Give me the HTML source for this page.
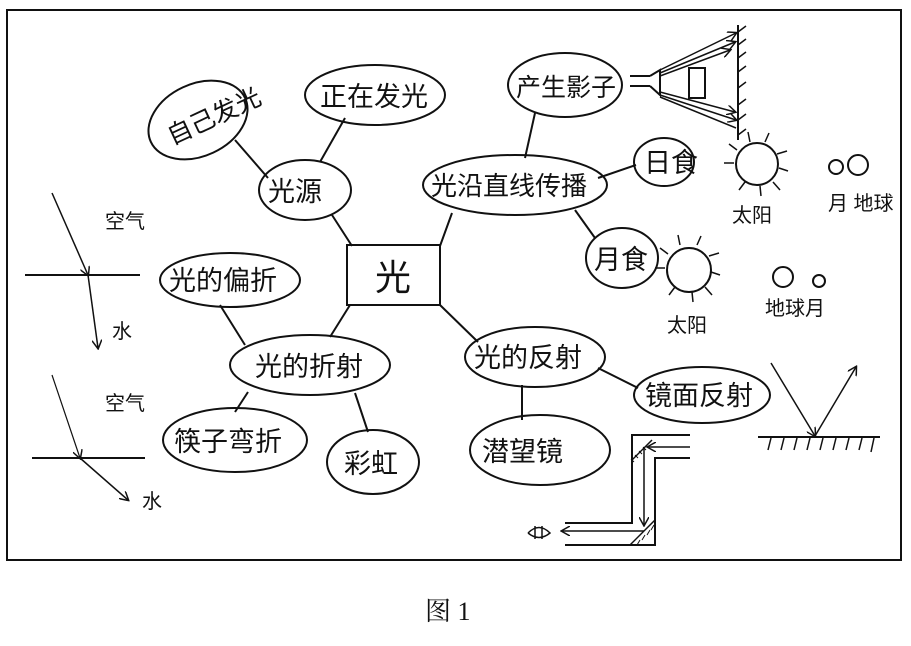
<!DOCTYPE html>
<html><head><meta charset="utf-8"><style>
body{margin:0;background:#fff;width:911px;height:641px;overflow:hidden}
svg text{font-family:"Liberation Sans","Noto Sans CJK SC",sans-serif;fill:#111}
</style></head><body>
<svg width="911" height="641" viewBox="0 0 911 641" xmlns="http://www.w3.org/2000/svg">
<defs><marker id="a" markerWidth="10" markerHeight="10" refX="8" refY="5" orient="auto" markerUnits="userSpaceOnUse"><path d="M0,0 L9,5 L0,10" fill="none" stroke="#111" stroke-width="1.5"/></marker></defs>
<rect x="7" y="10" width="894" height="550" fill="none" stroke="#111" stroke-width="2"/>
<g stroke="#111" stroke-width="2" fill="none">
<line x1="235" y1="140" x2="268" y2="178"/>
<line x1="345" y1="118" x2="320" y2="162"/>
<line x1="332" y1="215" x2="352" y2="246"/>
<line x1="440" y1="246" x2="452" y2="213"/>
<line x1="525" y1="158" x2="535" y2="113"/>
<line x1="598" y1="178" x2="636" y2="165"/>
<line x1="575" y1="210" x2="595" y2="238"/>
<line x1="350" y1="305" x2="330" y2="337"/>
<line x1="440" y1="305" x2="478" y2="342"/>
<line x1="220" y1="305" x2="245" y2="345"/>
<line x1="248" y1="392" x2="235" y2="412"/>
<line x1="355" y1="393" x2="368" y2="432"/>
<line x1="598" y1="368" x2="638" y2="388"/>
<line x1="522" y1="385" x2="522" y2="420"/>
<ellipse cx="198" cy="120" rx="52" ry="36" transform="rotate(-25 198 120)"/>
<ellipse cx="375" cy="95" rx="70" ry="30"/>
<ellipse cx="305" cy="190" rx="46" ry="30"/>
<ellipse cx="565" cy="85" rx="57" ry="32"/>
<ellipse cx="515" cy="185" rx="92" ry="30"/>
<ellipse cx="664" cy="162" rx="30" ry="24"/>
<ellipse cx="622" cy="258" rx="36" ry="30"/>
<rect x="347" y="245" width="93" height="60"/>
<ellipse cx="230" cy="280" rx="70" ry="27"/>
<ellipse cx="310" cy="365" rx="80" ry="30"/>
<ellipse cx="535" cy="357" rx="70" ry="30"/>
<ellipse cx="702" cy="395" rx="68" ry="28"/>
<ellipse cx="235" cy="440" rx="72" ry="32"/>
<ellipse cx="373" cy="462" rx="46" ry="32"/>
<ellipse cx="540" cy="450" rx="70" ry="35"/>
<line x1="25" y1="275" x2="140" y2="275"/>
<line x1="52" y1="193" x2="88" y2="275" stroke-width="1.5" marker-end="url(#a)"/>
<line x1="88" y1="275" x2="98" y2="348" stroke-width="1.5" marker-end="url(#a)"/>
<line x1="32" y1="458" x2="145" y2="458"/>
<line x1="52" y1="375" x2="80" y2="458" stroke-width="1.2" marker-end="url(#a)"/>
<line x1="80" y1="458" x2="128" y2="500" stroke-width="1.5" marker-end="url(#a)"/>
<line x1="630" y1="76" x2="650" y2="76"/><line x1="630" y1="86" x2="650" y2="86"/>
<path d="M650,76 L660,70 L660,95 L650,86"/>
<line x1="738" y1="25" x2="738" y2="140"/>
<path d="M738,32 l8,-6 M738,45 l8,-6 M738,58 l8,-6 M738,72 l8,-6 M738,88 l8,-6 M738,105 l8,-6 M738,120 l8,-6 M738,135 l8,-6" stroke-width="1.5"/>
<g stroke-width="1.5"><line x1="660" y1="70" x2="736" y2="33" marker-end="url(#a)"/><line x1="660" y1="73" x2="735" y2="42" marker-end="url(#a)"/><line x1="660" y1="76" x2="730" y2="50" marker-end="url(#a)"/>
<line x1="660" y1="92" x2="735" y2="112" marker-end="url(#a)"/><line x1="660" y1="95" x2="736" y2="120" marker-end="url(#a)"/><line x1="660" y1="97" x2="736" y2="128"/></g>
<rect x="689" y="68" width="16" height="30"/>
<circle cx="757" cy="164" r="21"/>
<path d="M734,163h-10M737,150l-8,-6M750,142l-2,-10M765,142l4,-9M777,154l10,-3M779,168l9,3M773,182l7,8M760,186l1,10M745,182l-6,8" stroke-width="1.5"/>
<circle cx="689" cy="270" r="22"/>
<path d="M665,268h-10M668,254l-8,-6M680,245l-2,-10M697,245l4,-9M709,256l10,-3M711,272l9,3M705,287l7,8M692,292l1,10M675,287l-6,8" stroke-width="1.5"/>
<circle cx="836" cy="167" r="7"/><circle cx="858" cy="165" r="10"/>
<circle cx="783" cy="277" r="10"/><circle cx="819" cy="281" r="6"/>
<line x1="758" y1="437" x2="880" y2="437"/>
<path d="M768,450l3,-12M781,450l3,-12M794,450l3,-12M807,450l3,-12M820,450l3,-12M833,450l3,-12M846,450l3,-12M859,450l3,-12M871,452l3,-14" stroke-width="1.5"/>
<line x1="771" y1="363" x2="815" y2="436" stroke-width="1.5" marker-end="url(#a)"/>
<line x1="815" y1="436" x2="856" y2="367" stroke-width="1.5" marker-end="url(#a)"/>
<path d="M690,435 H632 V523 H565"/>
<path d="M690,458 H655 V545 H565"/>
<line x1="690" y1="447" x2="648" y2="447" stroke-width="1.5" marker-end="url(#a)"/>
<line x1="644" y1="447" x2="644" y2="525" stroke-width="1.5" marker-end="url(#a)"/>
<line x1="644" y1="531" x2="562" y2="531" stroke-width="1.5" marker-end="url(#a)"/>
<line x1="632" y1="460" x2="652" y2="440" stroke-width="1.5"/>
<line x1="630" y1="545" x2="655" y2="520" stroke-width="1.5"/>
<path d="M634,462l-3,-3M638,458l-3,-3M642,454l-3,-3M646,450l-3,-3" stroke-width="1"/>
<path d="M637,545l3,-5M642,540l3,-5M647,535l3,-5M651,530l3,-5" stroke-width="1"/>
<path d="M528,533 q11,-11 22,0 q-11,9 -22,0 M535,526v13M542,526v13" stroke-width="1.5"/>
</g>
<g font-size="27">
<text x="164" y="132" font-size="25" transform="rotate(-25 198 120)">自己发光</text>
<text x="320" y="106">正在发光</text>
<text x="268" y="201">光源</text>
<text x="516" y="96" font-size="25">产生影子</text>
<text x="431" y="195" font-size="26">光沿直线传播</text>
<text x="644" y="172">日食</text>
<text x="594" y="269">月食</text>
<text x="375" y="290" font-size="36">光</text>
<text x="169" y="290">光的偏折</text>
<text x="255" y="376">光的折射</text>
<text x="474" y="367">光的反射</text>
<text x="645" y="405">镜面反射</text>
<text x="174" y="451">筷子弯折</text>
<text x="344" y="473">彩虹</text>
<text x="482" y="461">潜望镜</text>
</g>
<g font-size="20">
<text x="105" y="228">空气</text><text x="112" y="338">水</text>
<text x="105" y="410">空气</text><text x="142" y="508">水</text>
<text x="732" y="222">太阳</text><text x="828" y="210">月 地球</text>
<text x="667" y="332">太阳</text><text x="765" y="315">地球月</text>
</g>
<text x="425" y="620" font-size="26" style="font-family:'Liberation Serif','Noto Serif CJK SC',serif">图 1</text>
</svg>
</body></html>
